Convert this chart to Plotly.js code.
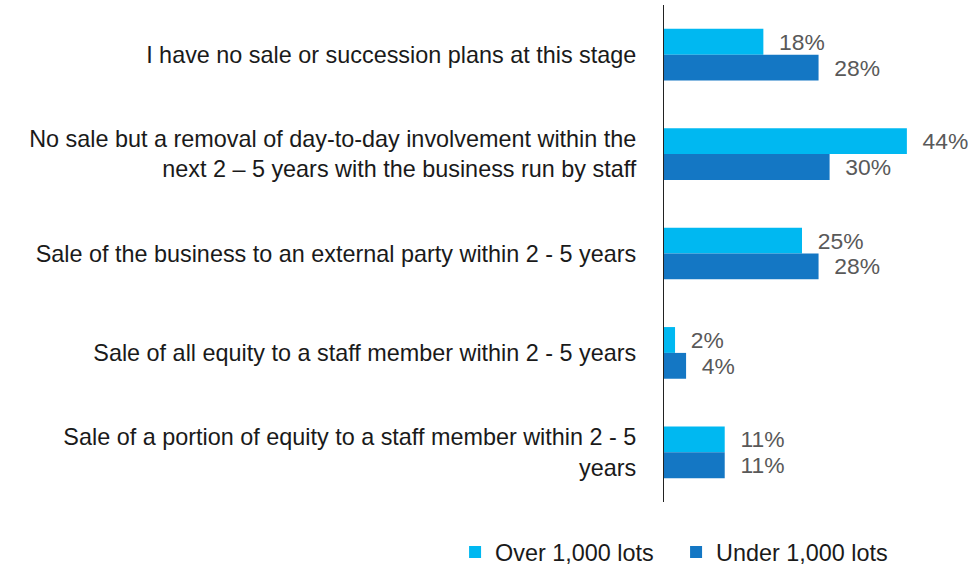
<!DOCTYPE html>
<html>
<head>
<meta charset="utf-8">
<script src="https://cdn.plot.ly/plotly-3.0.1.min.js"></script>
<style>body{margin:0;} #chart{width:968px;height:574px;}</style>
</head>
<body>
<div id="chart"></div>
<script>
/* Data */
var categories = [
  "I have no sale or succession plans at this stage",
  "No sale but a removal of day-to-day involvement within the<br>next 2 – 5 years with the business run by staff",
  "Sale of the business to an external party within 2 - 5 years",
  "Sale of all equity to a staff member within 2 - 5 years",
  "Sale of a portion of equity to a staff member within 2 - 5<br>years"
];
var overLots = [18, 44, 25, 2, 11];
var underLots = [28, 30, 28, 4, 11];

var fontFam = '"Liberation Sans", Arial, sans-serif';
var pad = '\u00a0\u00a0'; // push the value labels off the bar ends

/* Traces */
var trace1 = {
  y: categories,
  x: overLots,
  name: 'Over 1,000 lots',
  type: 'bar',
  orientation: 'h',
  marker: {color: '#00B8F1'},
  text: overLots.map(function(v) { return pad + v + '%'; }),
  textposition: 'outside',
  cliponaxis: false,
  textfont: {color: '#595959', size: 23, family: fontFam}
};
var trace2 = {
  y: categories,
  x: underLots,
  name: 'Under 1,000 lots',
  type: 'bar',
  orientation: 'h',
  marker: {color: '#1477C4'},
  text: underLots.map(function(v) { return pad + v + '%'; }),
  textposition: 'outside',
  cliponaxis: false,
  textfont: {color: '#595959', size: 23, family: fontFam}
};

/* Layout */
var layout = {
  width: 968,
  height: 574,
  margin: {l: 664, r: 28, t: 5, b: 72},
  font: {family: fontFam, size: 23.4, color: '#1a1a1a'},
  barmode: 'group',
  bargap: 0.48,
  bargroupgap: 0,
  xaxis: {range: [0, 50], visible: false},
  yaxis: {
    autorange: 'reversed',
    showline: true,
    linecolor: '#222',
    linewidth: 1,
    ticks: '',
    ticklabelstandoff: 22,
    showgrid: false
  },
  legend: {
    orientation: 'h',
    x: -0.757, xanchor: 'left',
    yref: 'container',
    y: 0.038, yanchor: 'middle',
    entrywidth: 176,
    font: {size: 23.4, color: '#1a1a1a'}
  },
  paper_bgcolor: '#fff',
  plot_bgcolor: '#fff'
};

Plotly.newPlot('chart', [trace1, trace2], layout, {staticPlot: true});
</script>
</body>
</html>
